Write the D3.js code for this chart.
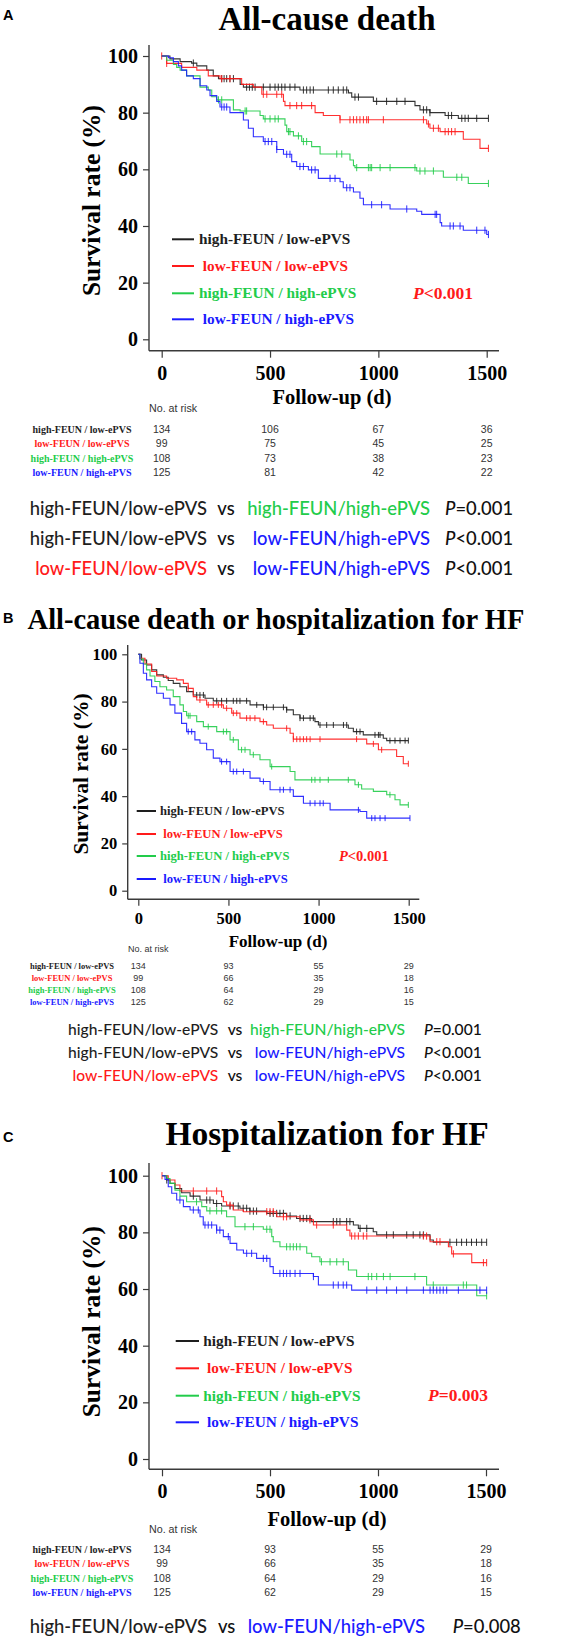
<!DOCTYPE html>
<html><head><meta charset="utf-8">
<script src="https://cdn.jsdelivr.net/npm/d3@7"></script>
<style>body{margin:0;background:#fff}svg{display:block}</style>
</head><body>
<svg id="chart" width="575" height="1638"></svg>
<script>
// ---------------- DATA ----------------
const groupNames = ["high-FEUN / low-ePVS", " low-FEUN / low-ePVS", "high-FEUN / high-ePVS", " low-FEUN / high-ePVS"];
const riskNames = ["high-FEUN / low-ePVS", "low-FEUN / low-ePVS", "high-FEUN / high-ePVS", "low-FEUN / high-ePVS"];
const compNames = ["high-FEUN/low-ePVS", "low-FEUN/low-ePVS", "high-FEUN/high-ePVS", "low-FEUN/high-ePVS"];
const groupColors = ["#1e1e1e", "#ff1a1a", "#22cc4a", "#1a1aff"];
const xTicks = [0, 500, 1000, 1500];
const yTicks = [0, 20, 40, 60, 80, 100];
const panelTitles = ["All-cause death", "All-cause death or hospitalization for HF", "Hospitalization for HF"];
const panelLetters = ["A", "B", "C"];
const panelP = ["<0.001", "<0.001", "=0.003"];

// Panel A: steps [day, survival %] and censor days
const A_steps0 = [[38,99],[85,98],[138,97.5],[162,96.5],[208,95],[238,93],[262,92],[362,90],[377,89],[638,88],[862,87],[877,85.5],[977,84],[1169,82.5],[1192,81],[1238,80],[1308,79],[1369,78]];
const A_cens0 = [146,277,288,300,315,331,392,405,418,431,469,500,523,538,554,569,592,615,654,669,685,700,769,792,815,838,854,892,908,992,1038,1085,1123,1208,1223,1238,1323,1338,1385,1400,1415,1454,1508];
const A_steps1 = [[23,97.4],[92,96],[162,95],[215,93],[269,92],[369,90],[423,89],[462,86.5],[562,84],[569,82.5],[708,80],[746,79],[823,77.5],[1223,76],[1238,74.5],[1285,73.3],[1392,70.6],[1469,67.4]];
const A_cens1 = [0,23,277,315,469,485,531,554,592,623,646,692,823,869,885,900,915,931,946,954,1023,1208,1231,1254,1277,1308,1323,1338,1354,1508];
const A_steps2 = [[23,98.5],[54,97],[69,96],[85,95],[115,93],[177,89],[215,88],[231,85.6],[254,84.5],[331,81],[362,80.6],[454,79],[469,77.8],[569,75.6],[577,73.3],[608,71.8],[646,69.8],[692,68],[731,65.4],[869,63.3],[885,61.3],[892,60.6],[1177,59.4],[1300,57.2],[1415,55]];
const A_cens2 = [262,277,385,392,477,500,523,538,585,592,631,654,669,808,831,900,954,962,969,1008,1054,1169,1192,1215,1254,1362,1385,1508];
const A_steps3 = [[31,99.4],[54,98],[77,96.5],[92,95],[115,93],[146,92],[177,89.5],[208,88],[223,86],[254,84],[269,82],[315,80],[377,77.4],[400,74.5],[423,71.5],[469,69.8],[531,67],[562,65.3],[600,62.7],[623,61],[677,59.8],[723,56.8],[823,55.6],[838,53.5],[885,52],[915,49.8],[931,47.5],[1054,46],[1177,45.2],[1200,44.1],[1285,41.2],[1292,40],[1392,38.5],[1500,37]];
const A_cens3 = [277,288,300,477,492,508,531,577,592,638,654,692,708,777,800,854,869,969,1015,1131,1262,1269,1331,1346,1377,1454,1492,1508];

// Panel B
const B_steps0 = [[18,97.6],[46,95.5],[74,93.4],[102,91.3],[139,90.3],[166,88.9],[194,87.7],[231,86.3],[268,84.2],[305,82.8],[370,81.4],[416,80.3],[620,78.6],[694,77.6],[823,76.5],[860,74.4],[897,73],[980,71.5],[999,70.1],[1165,68.7],[1193,67.3],[1248,65.9],[1359,64.5],[1378,63.5]];
const B_cens0 = [324,342,361,435,462,490,527,546,564,601,657,694,712,749,805,823,897,916,953,971,1008,1045,1082,1138,1156,1211,1230,1313,1332,1341,1396,1424,1452,1480,1498];
const B_steps1 = [[9,98.3],[37,95.9],[74,92.7],[102,90.8],[157,89.9],[213,89.2],[250,87.7],[277,85.6],[305,82.1],[324,80.7],[379,78.6],[472,77.2],[518,75.1],[564,73],[675,71.5],[712,70.1],[749,68.7],[842,66.6],[860,64.1],[1267,62.1],[1332,59.6],[1433,56.8],[1470,53.7]];
const B_cens1 = [277,342,388,416,444,462,490,527,546,601,620,647,694,823,860,879,897,916,934,953,1008,1211,1304,1350,1498];
const B_steps2 = [[9,98],[28,95.9],[46,93.4],[65,90.8],[92,88.5],[120,86.3],[157,84.9],[194,82.1],[231,78.6],[250,75.8],[268,74],[324,71.5],[361,69.4],[435,67.3],[509,63.8],[555,59.6],[620,57.5],[675,55.4],[731,52.5],[842,50.4],[869,46.9],[1202,44.8],[1239,43],[1304,42],[1378,40.6],[1424,38.5],[1452,36.3]];
const B_cens2 = [277,287,388,472,490,527,573,592,638,740,962,980,1008,1054,1165,1221,1396,1498];
const B_steps3 = [[9,96.2],[28,92],[46,89.2],[74,86.3],[102,83.5],[139,81.4],[176,78.6],[203,75.1],[240,70.8],[268,67.3],[314,63.8],[342,62.4],[379,59.6],[416,56.1],[453,54.6],[509,50.4],[620,47.6],[675,46.2],[731,42.7],[860,39.9],[916,37],[1064,34.2],[1230,33.5],[1267,30.7]];
const B_cens3 = [277,296,462,490,527,546,583,694,786,805,842,953,980,1008,1026,1221,1295,1313,1341,1369,1507];

// Panel C
const C_steps0 = [[22,98.5],[37,97.3],[60,95.5],[91,94],[130,92.8],[176,91.4],[238,90.2],[276,89.3],[361,88.5],[407,87.5],[485,86.7],[577,85.8],[623,84.9],[693,83.8],[886,82.6],[909,81.4],[978,80.2],[994,79.1],[1241,77.3],[1256,76.5]];
const C_cens0 = [22,145,207,222,253,315,330,353,376,392,407,423,438,500,515,531,546,562,593,639,654,670,685,793,809,824,855,870,917,948,1040,1071,1133,1163,1194,1210,1333,1364,1387,1410,1433,1456,1480,1503];
const C_steps1 = [[29,98.5],[60,96.7],[83,94.6],[276,92.6],[284,90.8],[299,89.6],[330,87.9],[377,87.3],[531,85.5],[639,84.4],[701,82.6],[855,80.8],[870,78.7],[1241,76.7],[1326,74.9],[1341,72.4],[1434,69.3]];
const C_cens1 = [0,145,207,253,315,485,500,515,562,577,685,716,793,878,893,909,932,948,1210,1225,1272,1287,1349,1488,1503];
const C_steps2 = [[22,99],[37,97.3],[60,94.9],[83,92.8],[114,90.8],[184,89.1],[207,87.6],[299,85.5],[338,82],[469,81.1],[508,78.5],[515,76.7],[546,74.9],[670,72.6],[693,71.4],[731,69.6],[863,66.7],[901,64.4],[1225,61.4],[1457,57.6]];
const C_cens2 = [160,222,253,276,384,423,485,500,577,593,608,623,639,738,778,809,839,955,971,994,1025,1056,1171,1256,1395,1410,1503];
const C_steps3 = [[14,98.7],[29,96.1],[45,93.8],[68,91.4],[99,89.1],[130,87.9],[176,85.5],[191,82.6],[253,80.8],[284,78.5],[315,76.1],[346,73.8],[377,72.6],[438,70.8],[500,67.9],[515,65.5],[701,64.4],[724,61.4],[878,59.6]];
const C_cens3 = [83,145,168,199,214,230,253,268,307,392,415,469,485,546,562,577,593,616,639,701,793,816,839,855,948,994,1040,1086,1133,1210,1241,1256,1272,1287,1302,1318,1372,1472,1503];

// Numbers at risk at 0, 500, 1000, 1500 days
const A_risk = [[134,106,67,36],[99,75,45,25],[108,73,38,23],[125,81,42,22]];
const B_risk = [[134,93,55,29],[99,66,35,18],[108,64,29,16],[125,62,29,15]];
const C_risk = [[134,93,55,29],[99,66,35,18],[108,64,29,16],[125,62,29,15]];

// Pairwise comparisons: [group a, group b, P text]
const A_comp = [[0,2,"=0.001"],[0,3,"<0.001"],[1,3,"<0.001"]];
const B_comp = [[0,2,"=0.001"],[0,3,"<0.001"],[1,3,"<0.001"]];
const C_comp = [[0,3,"=0.008"]];

// ---------------- LAYOUT ----------------
const SERIF = "'Liberation Serif','Times New Roman',serif";
const SANS = "'Liberation Sans',Arial,sans-serif";
const CAL = "Lato,'Open Sans',sans-serif";

const layouts = [
  {xr:[161.7,486.7], yr:[339.3,56], axY:350.7, axX:149, axXEnd:499, axTop:45, tick:7, tickFs:20, xpad:8,
   letterY:20, titleX:327, titleY:29.5, titleFs:33,
   yTitleX:100, yTitleY:200.5, yTitleFs:25.5, xTitleX:332, xTitleY:404, xTitleFs:20.5,
   legX0:172, legX1:194, legTextX:199, legY:[239.3,266,293.3,319.3], legFs:15.3, legLW:2, pX:413, pY:299, pFs:17.5,
   censH:3.6, noRiskX:149, noRiskY:412, noRiskFs:10.7, riskLabX:82, riskY:[433.3,447.3,461.7,475.7], riskLabFs:10, riskNumFs:10.5,
   compFs:18.4, compY:[515,545,575], c1R:207, vsX:226, c2R:430, pL:445},
  {xr:[138.3,408.7], yr:[890.7,654.3], axY:899.3, axX:127.7, axXEnd:419.3, axTop:645, tick:6.5, tickFs:16.5, xpad:6,
   letterY:623, titleX:276, titleY:629, titleFs:28.5,
   yTitleX:88, yTitleY:774, yTitleFs:21.5, xTitleX:278, xTitleY:947, xTitleFs:17,
   legX0:136.7, legX1:156, legTextX:160, legY:[811,834,856,879], legFs:12.6, legLW:2, pX:339, pY:860.7, pFs:14.5,
   censH:3, noRiskX:128, noRiskY:951.7, noRiskFs:9, riskLabX:72, riskY:[969.3,981,992.7,1005], riskLabFs:8.5, riskNumFs:9,
   compFs:15.6, compY:[1035,1058.3,1080.7], c1R:218.3, vsX:235, c2R:405, pL:424},
  {xr:[162,486], yr:[1459,1175.7], axY:1469.3, axX:149, axXEnd:499, axTop:1163, tick:7, tickFs:20, xpad:8,
   letterY:1142, titleX:327, titleY:1145, titleFs:33.5,
   yTitleX:100, yTitleY:1321.7, yTitleFs:25.5, xTitleX:327, xTitleY:1526, xTitleFs:20.5,
   legX0:175.7, legX1:199, legTextX:203.3, legY:[1341,1368.3,1395.7,1422.3], legFs:15.3, legLW:2, pX:428, pY:1401, pFs:17.5,
   censH:3.6, noRiskX:149, noRiskY:1532.7, noRiskFs:10.7, riskLabX:82, riskY:[1553.3,1567.3,1582,1596], riskLabFs:10, riskNumFs:10.5,
   compFs:18.4, compY:[1632.5], c1R:207, vsX:226.7, c2R:425, pL:452.7}
];

const panelSteps = [[A_steps0,A_steps1,A_steps2,A_steps3],[B_steps0,B_steps1,B_steps2,B_steps3],[C_steps0,C_steps1,C_steps2,C_steps3]];
const panelCens = [[A_cens0,A_cens1,A_cens2,A_cens3],[B_cens0,B_cens1,B_cens2,B_cens3],[C_cens0,C_cens1,C_cens2,C_cens3]];
const panelRisk = [A_risk, B_risk, C_risk];
const panelComp = [A_comp, B_comp, C_comp];

const svg = d3.select("#chart");
const AXC = "#3a3a3a";

function survAt(steps, t) {
  let s = 100;
  for (const [st, sv] of steps) { if (st <= t) s = sv; else break; }
  return s;
}

panelTitles.forEach((title, pi) => {
  const L = layouts[pi];
  const g = svg.append("g");
  const x = d3.scaleLinear().domain([0, 1500]).range(L.xr);
  const y = d3.scaleLinear().domain([0, 100]).range(L.yr);

  // letter + title
  g.append("text").attr("x", 3).attr("y", L.letterY).text(panelLetters[pi])
    .attr("font-family", SANS).attr("font-weight", "bold").attr("font-size", 14.5);
  g.append("text").attr("x", L.titleX).attr("y", L.titleY).attr("text-anchor", "middle").text(title)
    .attr("font-family", SERIF).attr("font-weight", "bold").attr("font-size", L.titleFs);

  // axes
  const gx = g.append("g").attr("transform", `translate(0,${L.axY})`)
    .call(d3.axisBottom(x).tickValues(xTicks).tickFormat(d3.format("d")).tickSize(L.tick).tickPadding(L.xpad).tickSizeOuter(0));
  gx.select(".domain").remove();
  gx.append("line").attr("x1", L.axX).attr("x2", L.axXEnd).attr("stroke", AXC).attr("stroke-width", 1.4);
  const gy = g.append("g").attr("transform", `translate(${L.axX},0)`)
    .call(d3.axisLeft(y).tickValues(yTicks).tickFormat(d3.format("d")).tickSize(L.tick - 1).tickPadding(5).tickSizeOuter(0));
  gy.select(".domain").remove();
  gy.append("line").attr("y1", L.axTop).attr("y2", L.axY).attr("stroke", AXC).attr("stroke-width", 1.4);
  [gx, gy].forEach(a => {
    a.selectAll(".tick line").attr("stroke", AXC).attr("stroke-width", 1.2);
    a.selectAll(".tick text").attr("font-family", SERIF).attr("font-weight", "bold")
      .attr("font-size", L.tickFs).attr("fill", "#000");
  });

  // axis titles
  g.append("text").attr("transform", `translate(${L.yTitleX},${L.yTitleY}) rotate(-90)`)
    .attr("text-anchor", "middle").text("Survival rate (%)")
    .attr("font-family", SERIF).attr("font-weight", "bold").attr("font-size", L.yTitleFs);
  g.append("text").attr("x", L.xTitleX).attr("y", L.xTitleY).attr("text-anchor", "middle").text("Follow-up (d)")
    .attr("font-family", SERIF).attr("font-weight", "bold").attr("font-size", L.xTitleFs);

  // curves
  const line = d3.line().x(d => x(d[0])).y(d => y(d[1])).curve(d3.curveStepAfter);
  panelSteps[pi].forEach((steps, gi) => {
    const cens = panelCens[pi][gi];
    const tEnd = Math.max(steps[steps.length - 1][0], d3.max(cens));
    const pts = [[0, 100], ...steps, [tEnd, steps[steps.length - 1][1]]];
    g.append("path").attr("d", line(pts)).attr("fill", "none")
      .attr("stroke", groupColors[gi]).attr("stroke-width", 1.1).attr("opacity", 0.9);
    g.append("g").selectAll("line").data(cens).join("line")
      .attr("x1", d => x(d)).attr("x2", d => x(d))
      .attr("y1", d => y(survAt(steps, d)) - L.censH).attr("y2", d => y(survAt(steps, d)) + L.censH)
      .attr("stroke", groupColors[gi]).attr("stroke-width", 1).attr("opacity", 0.9);
  });

  // legend
  groupNames.forEach((name, gi) => {
    g.append("line").attr("x1", L.legX0).attr("x2", L.legX1).attr("y1", L.legY[gi]).attr("y2", L.legY[gi])
      .attr("stroke", groupColors[gi]).attr("stroke-width", L.legLW);
    g.append("text").attr("x", L.legTextX).attr("y", L.legY[gi] + L.legFs * 0.33).text(name)
      .style("white-space", "pre")
      .attr("font-family", SERIF).attr("font-weight", "bold").attr("font-size", L.legFs).attr("fill", groupColors[gi]);
  });
  const pt = g.append("text").attr("x", L.pX).attr("y", L.pY).attr("font-family", SERIF)
    .attr("font-weight", "bold").attr("font-size", L.pFs).attr("fill", "#ff1a1a");
  pt.append("tspan").attr("font-style", "italic").text("P");
  pt.append("tspan").text(panelP[pi]);

  // numbers at risk
  g.append("text").attr("x", L.noRiskX).attr("y", L.noRiskY).text("No. at risk")
    .attr("font-family", SANS).attr("font-size", L.noRiskFs).attr("fill", "#333");
  panelRisk[pi].forEach((row, gi) => {
    g.append("text").attr("x", L.riskLabX).attr("y", L.riskY[gi]).attr("text-anchor", "middle").text(riskNames[gi])
      .attr("font-family", SERIF).attr("font-weight", "bold").attr("font-size", L.riskLabFs).attr("fill", groupColors[gi]);
    g.append("g").selectAll("text").data(row).join("text")
      .attr("x", (d, i) => x(xTicks[i])).attr("y", L.riskY[gi]).attr("text-anchor", "middle").text(d => d)
      .attr("font-family", SANS).attr("font-size", L.riskNumFs).attr("fill", "#333");
  });

  // pairwise comparisons
  panelComp[pi].forEach((c, ri) => {
    const yy = L.compY[ri];
    const base = sel => sel.attr("y", yy).attr("font-family", CAL).attr("font-size", L.compFs).attr("font-weight", 500);
    g.append("text").call(base).attr("x", L.c1R).attr("text-anchor", "end").attr("fill", groupColors[c[0]]).text(compNames[c[0]]);
    g.append("text").call(base).attr("x", L.vsX).attr("text-anchor", "middle").attr("fill", "#111").text("vs");
    g.append("text").call(base).attr("x", L.c2R).attr("text-anchor", "end").attr("fill", groupColors[c[1]]).text(compNames[c[1]]);
    const p = g.append("text").call(base).attr("x", L.pL).attr("fill", "#111");
    p.append("tspan").attr("font-style", "italic").text("P");
    p.append("tspan").text(c[2]);
  });
});
</script>
</body></html>
